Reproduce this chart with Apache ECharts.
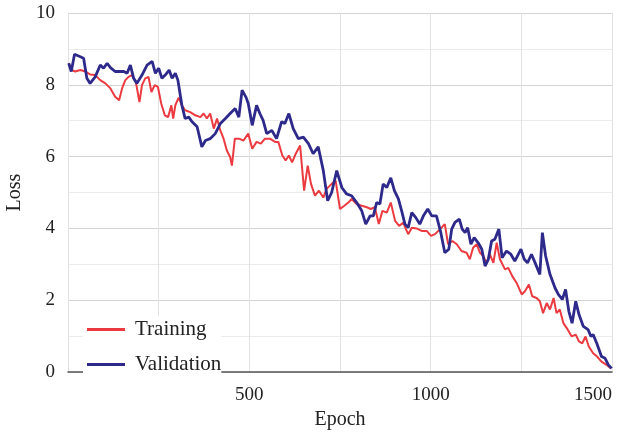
<!DOCTYPE html>
<html>
<head>
<meta charset="utf-8">
<script src="https://cdn.jsdelivr.net/npm/echarts@6/dist/echarts.min.js"></script>
<style>
  html, body { margin: 0; padding: 0; background: #fff; }
  #chart { width: 620px; height: 434px; }
</style>
</head>
<body>
<div id="chart"></div>
<script>
// training curve
var trainEpochs = [2, 11, 20, 34, 48, 61, 75, 89, 103, 117, 130, 141, 149, 158, 167, 176, 187, 197, 204, 213,
  222, 230, 239, 248, 257, 267, 276, 285, 290, 296, 305, 314, 323, 337, 351, 365, 374, 383, 392, 402,
  411, 420, 429, 438, 447, 452, 460, 471, 484, 497, 508, 520, 532, 543, 557, 571, 580, 591, 600, 609,
  618, 628, 640, 651, 661, 670, 681, 692, 704, 713, 727, 738, 750, 762, 773, 782, 796, 810, 824, 835,
  846, 857, 867, 879, 890, 902, 913, 924, 938, 948, 961, 975, 989, 1001, 1012, 1026, 1039, 1048, 1060, 1072,
  1085, 1099, 1108, 1117, 1127, 1136, 1145, 1154, 1163, 1173, 1182, 1191, 1205, 1214, 1225, 1237, 1251, 1260, 1271, 1280,
  1292, 1301, 1310, 1320, 1329, 1339, 1347, 1356, 1366, 1378, 1389, 1400, 1409, 1418, 1427, 1436, 1448, 1459, 1471, 1485, 1497];
var trainLoss = [8.6, 8.41, 8.37, 8.41, 8.37, 8.29, 8.27, 8.13, 8.04, 7.9, 7.67, 7.57, 7.9, 8.13, 8.22, 8.27, 8.08, 7.52, 7.99, 8.18,
  8.22, 7.8, 7.99, 7.94, 7.48, 7.15, 7.1, 7.43, 7.06, 7.43, 7.64, 7.43, 7.29, 7.24, 7.15, 7.1, 7.2, 7.06, 7.2, 6.78,
  7.06, 6.73, 6.5, 6.17, 5.99, 5.75, 6.5, 6.5, 6.45, 6.64, 6.22, 6.41, 6.36, 6.5, 6.5, 6.41, 6.41, 6.03, 5.89, 6.03,
  5.84, 6.08, 6.31, 5.05, 5.75, 5.24, 4.91, 5.05, 4.86, 5.1, 5.24, 5.33, 4.54, 4.63, 4.72, 4.82, 4.68, 4.63, 4.59, 4.54,
  4.59, 4.12, 4.49, 4.44, 4.72, 4.21, 4.07, 4.16, 3.84, 4.02, 4.0, 3.93, 3.93, 3.79, 3.84, 3.98, 4.12, 3.56, 3.65, 3.56,
  3.37, 3.32, 3.14, 3.46, 3.56, 3.32, 3.23, 3.04, 3.28, 3.04, 3.6, 3.14, 2.86, 2.9, 2.67, 2.48, 2.16, 2.25, 2.44, 2.11,
  2.06, 1.97, 1.64, 1.92, 1.74, 2.06, 1.64, 1.74, 1.36, 1.18, 0.99, 1.04, 0.85, 0.8, 0.99, 0.71, 0.52, 0.43, 0.29, 0.2, 0.1];

// validation curve
var valEpochs = [2, 9, 18, 34, 43, 52, 61, 75, 89, 98, 108, 117, 130, 154, 163, 172, 181, 190, 204, 218,
  232, 241, 250, 259, 268, 279, 287, 296, 303, 314, 323, 333, 342, 356, 369, 379, 392, 406, 420, 434,
  447, 461, 471, 480, 491, 497, 508, 520, 529, 538, 548, 562, 575, 589, 598, 609, 621, 635, 649, 663,
  676, 690, 704, 716, 727, 741, 755, 768, 782, 796, 810, 821, 833, 842, 851, 860, 869, 879, 890, 900,
  911, 920, 929, 938, 948, 959, 970, 980, 992, 1003, 1016, 1028, 1039, 1050, 1058, 1067, 1079, 1087, 1095, 1102,
  1111, 1120, 1131, 1141, 1150, 1159, 1168, 1177, 1188, 1197, 1209, 1221, 1232, 1249, 1258, 1267, 1278, 1288, 1301, 1308,
  1317, 1329, 1343, 1352, 1363, 1372, 1381, 1390, 1400, 1409, 1421, 1434, 1442, 1448, 1458, 1462, 1471, 1481, 1490, 1499];
var valLoss = [8.6, 8.37, 8.85, 8.78, 8.74, 8.18, 8.04, 8.22, 8.55, 8.46, 8.6, 8.48, 8.37, 8.37, 8.32, 8.55, 8.18, 8.04, 8.27, 8.55,
  8.65, 8.32, 8.46, 8.18, 8.27, 8.41, 8.18, 8.32, 8.13, 7.43, 7.06, 7.1, 6.97, 6.83, 6.27, 6.45, 6.5, 6.64, 6.92, 7.06,
  7.2, 7.34, 7.1, 7.85, 7.65, 7.48, 6.87, 7.43, 7.2, 7.01, 6.64, 6.73, 6.5, 6.97, 6.92, 7.2, 6.78, 6.5, 6.54, 6.36,
  6.08, 6.27, 5.61, 4.77, 5.0, 5.61, 5.14, 4.96, 4.91, 4.72, 4.49, 4.12, 4.35, 4.35, 4.72, 4.68, 5.24, 5.14, 5.41, 5.05,
  4.82, 4.49, 4.12, 4.02, 4.44, 4.3, 4.12, 4.35, 4.54, 4.35, 4.35, 3.88, 3.32, 3.42, 3.98, 4.17, 4.26, 3.98, 3.88, 4.02,
  3.56, 3.74, 3.6, 3.42, 2.95, 3.14, 3.65, 3.7, 3.98, 3.18, 3.37, 3.28, 3.09, 3.42, 3.14, 3.04, 3.28, 3.04, 2.72, 3.88,
  3.23, 2.72, 2.34, 2.16, 2.02, 2.3, 1.69, 1.36, 1.97, 1.6, 1.27, 1.18, 0.99, 1.04, 0.8, 0.76, 0.43, 0.38, 0.2, 0.1];

var xTicks = [500, 1000, 1500];
var yTicks = [0, 2, 4, 6, 8, 10];

function pairs(xs, ys) {
  return xs.map(function (x, i) { return [x, ys[i]]; });
}

var font = 'Liberation Serif';
var chart = echarts.init(document.getElementById('chart'));

var option = {
  animation: false,
  backgroundColor: '#fff',
  grid: { left: 68, right: 8, top: 13, bottom: 62, outerBoundsMode: 'none' },
  legend: {
    orient: 'vertical',
    left: 83,
    top: 316,
    padding: [3, 0, 1, 4],
    backgroundColor: '#fff',
    icon: 'rect',
    itemWidth: 38,
    itemHeight: 3,
    itemGap: 14,
    textStyle: { fontFamily: font, fontSize: 21, color: '#222', lineHeight: 18, padding: [0, 0, 0, 5] },
    data: ['Training', 'Validation']
  },
  xAxis: {
    type: 'value',
    min: 0,
    max: 1500,
    interval: 250,
    name: 'Epoch',
    nameLocation: 'middle',
    nameGap: 36,
    nameTextStyle: { fontFamily: font, fontSize: 20, color: '#222' },
    axisLine: { lineStyle: { color: '#555', width: 1.5 } },
    axisTick: { show: false },
    axisLabel: {
      fontFamily: font, fontSize: 19, color: '#222', margin: 14,
      alignMaxLabel: 'right',
      formatter: function (v) { return xTicks.indexOf(v) >= 0 ? String(v) : ''; }
    },
    splitLine: { lineStyle: { color: '#e2e2e2', width: 1 } }
  },
  yAxis: {
    type: 'value',
    min: 0,
    max: 10,
    interval: 1,
    name: 'Loss',
    nameLocation: 'middle',
    nameGap: 40,
    nameRotate: 90,
    nameTextStyle: { fontFamily: font, fontSize: 20, color: '#222' },
    axisLine: { show: true, lineStyle: { color: '#e2e2e2', width: 1 } },
    axisTick: { show: false },
    axisLabel: {
      fontFamily: font, fontSize: 19, color: '#222', margin: 13,
      formatter: function (v) { return yTicks.indexOf(v) >= 0 ? String(v) : ''; }
    },
    splitLine: { lineStyle: { color: ['#d4d4d4', '#ebebeb'], width: 1.2 } }
  },
  series: [
    {
      name: 'Training',
      type: 'line',
      showSymbol: false,
      data: pairs(trainEpochs, trainLoss),
      itemStyle: { color: '#ec3b40' },
      lineStyle: { color: '#ec3b40', width: 2 }
    },
    {
      name: 'Validation',
      type: 'line',
      showSymbol: false,
      data: pairs(valEpochs, valLoss),
      itemStyle: { color: '#2e2a8c' },
      lineStyle: { color: '#2e2a8c', width: 2.8 }
    }
  ]
};

chart.setOption(option);
</script>
</body>
</html>
